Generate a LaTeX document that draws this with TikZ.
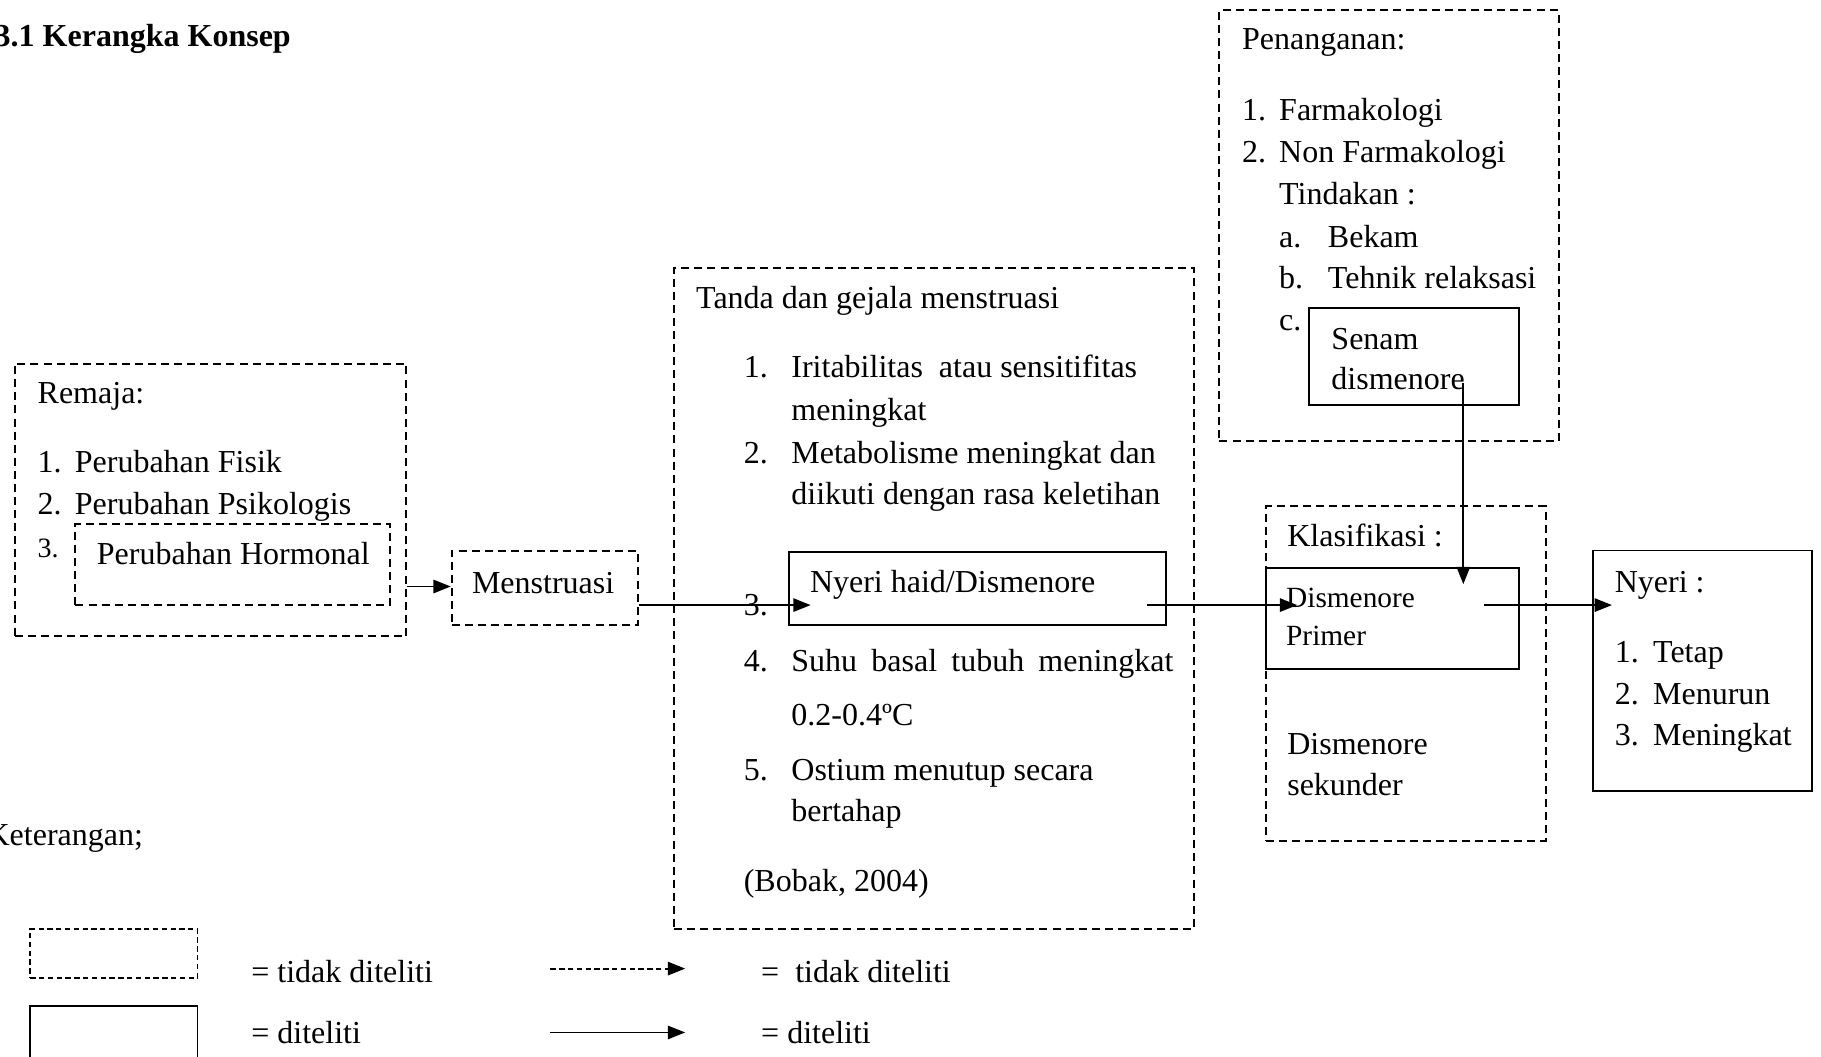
\documentclass[tikz,border=0pt]{standalone}
\usepackage{fontspec}
\setmainfont{Liberation Serif}
\usetikzlibrary{fit,arrows.meta}
\begin{document}
\begin{tikzpicture}[x=0.4355pt,y=-0.4355pt,
  dbox/.style={draw,line width=0.75pt,dash pattern=on 3pt off 1.9pt,inner sep=0pt},
  sbox/.style={draw,line width=0.7pt,inner sep=0pt},
  txt/.style={anchor=base west,inner sep=0pt,yshift=-1.2pt,font=\fontsize{12}{14}\selectfont},
  small/.style={anchor=base west,inner sep=0pt,yshift=-1.2pt,font=\fontsize{11}{13}\selectfont},
  arr/.style={line width=0.7pt,-{Triangle[length=6.5pt,width=5pt]}},
  darr/.style={line width=0.7pt,dash pattern=on 2pt off 1.3pt,-{Triangle[length=6.5pt,width=5pt]}}]
\useasboundingbox (0,0) rectangle (1568,910);

% title
\node[txt,font=\fontsize{12}{14}\selectfont\bfseries] (title) at (-5,37) {3.1 Kerangka Konsep};

% Remaja
\node[dbox,fit={(13,313) (350,548)}] (remaja) {};
\node[dbox,fit={(65,451) (336,521)}] (hormonal) {};
\node[txt] (rt) at (32,345) {Remaja:};
\node[txt] (r1n) at (32,404) {1.};
\node[txt] (r1) at (64,404) {Perubahan Fisik};
\node[txt] (r2n) at (32,440) {2.};
\node[txt] (r2) at (64,440) {Perubahan Psikologis};
\node[txt,font=\fontsize{10.5}{12}\selectfont] (r3n) at (32,477) {3.};
\node[txt] (r3) at (83,483) {Perubahan Hormonal};

% Menstruasi
\node[dbox,fit={(389,474) (549,538)}] (menstr) {};
\node[txt] (mt) at (406,508) {Menstruasi};

% Tanda dan gejala
\node[dbox,fit={(580,231) (1028,800)}] (tanda) {};
\node[sbox,fit={(679,475) (1004,538)}] (nyerihaid) {};
\node[txt] (tt) at (599,263) {Tanda dan gejala menstruasi};
\node[txt] (t1n) at (640,322) {1.};
\node[txt] (t1) at (681,322) {Iritabilitas\ \ atau sensitifitas};
\node[txt] (t1b) at (681,359) {meningkat};
\node[txt] (t2n) at (640,396) {2.};
\node[txt] (t2) at (681,396) {Metabolisme meningkat dan};
\node[txt] (t2b) at (681,432) {diikuti dengan rasa keletihan};
\node[txt] (t3n) at (640,527) {3.};
\node[txt] (t3) at (697,507) {Nyeri haid/Dismenore};
\node[txt] (t4n) at (640,575) {4.};
\node[txt] (t4) at (681,575) {\makebox[143.3pt][s]{Suhu basal tubuh meningkat}};
\node[txt] (t4b) at (681,622) {0.2-0.4ºC};
\node[txt] (t5n) at (640,669) {5.};
\node[txt] (t5) at (681,669) {Ostium menutup secara};
\node[txt] (t5b) at (681,705) {bertahap};
\node[txt] (tb) at (640,765) {(Bobak, 2004)};

% Penanganan
\node[dbox,fit={(1050,9) (1342,380)}] (penanganan) {};
\node[sbox,fit={(1127,265) (1308,349)}] (senam) {};
\node[txt] (pt) at (1069,40) {Penanganan:};
\node[txt] (p1n) at (1069,101) {1.};
\node[txt] (p1) at (1101,101) {Farmakologi};
\node[txt] (p2n) at (1069,137) {2.};
\node[txt] (p2) at (1101,137) {Non Farmakologi};
\node[txt] (p2b) at (1101,173) {Tindakan :};
\node[txt] (pan) at (1101,210) {a.};
\node[txt] (pa) at (1143,210) {Bekam};
\node[txt] (pbn) at (1101,246) {b.};
\node[txt] (pb) at (1143,246) {Tehnik relaksasi};
\node[txt] (pcn) at (1101,282) {c.};
\node[txt] (pc) at (1146,298) {Senam};
\node[txt] (pc2) at (1146,333) {dismenore};

% Klasifikasi
\node[dbox,fit={(1090,436) (1331,724)}] (klas) {};
\node[sbox,fit={(1090,489) (1308,576)}] (primer) {};
\node[txt] (kt) at (1108,468) {Klasifikasi :};
\node[small] (k1) at (1107,520) {Dismenore};
\node[small] (k1b) at (1107,553) {Primer};
\node[txt] (k2) at (1108,647) {Dismenore};
\node[txt] (k2b) at (1108,682) {sekunder};

% Nyeri
\node[sbox,fit={(1372,474) (1560,681)}] (nyeri) {};
\node[txt] (nt) at (1390,507) {Nyeri :};
\node[txt] (n1n) at (1390,568) {1.};
\node[txt] (n1) at (1423,568) {Tetap};
\node[txt] (n2n) at (1390,604) {2.};
\node[txt] (n2) at (1423,604) {Menurun};
\node[txt] (n3n) at (1390,639) {3.};
\node[txt] (n3) at (1423,639) {Meningkat};

% connectors
\coordinate (nhin) at (698,521);
\coordinate (nhout) at (988,521);
\coordinate (prin) at (1117,521);
\coordinate (senout) at (1260,330);
\coordinate (prtop) at (1260,503);
\coordinate (prout) at (1278,521);
\coordinate (nyin) at (1388,521);
\draw[arr] (remaja.east |- 0,505) -- (menstr.west |- 0,505);
\draw[arr] (menstr.east |- nhin) -- (nhin);
\draw[arr] (nhout) -- (prin);
\draw[arr] (senout) -- (prtop);
\draw[arr] (prout) -- (nyin);

% legend
\node[txt] (ket) at (-12,725) {Keterangan;};
\node[draw,line width=0.7pt,dash pattern=on 2pt off 1.3pt,inner sep=0pt,fit={(26,800) (170,842)}] (legd) {};
\node[sbox,fit={(26,866) (170,918)}] (legs) {};
\node[txt] (l1) at (216,843) {= tidak diteliti};
\node[txt] (l2) at (216,896) {= diteliti};
\coordinate (lda) at (474,834);
\coordinate (ldb) at (590,834);
\coordinate (lsa) at (474,889);
\coordinate (lsb) at (590,889);
\draw[darr] (lda) -- (ldb);
\draw[arr] (lsa) -- (lsb);
\node[txt] (l3) at (655,843) {=\ \ tidak diteliti};
\node[txt] (l4) at (655,896) {= diteliti};
\end{tikzpicture}
\end{document}
